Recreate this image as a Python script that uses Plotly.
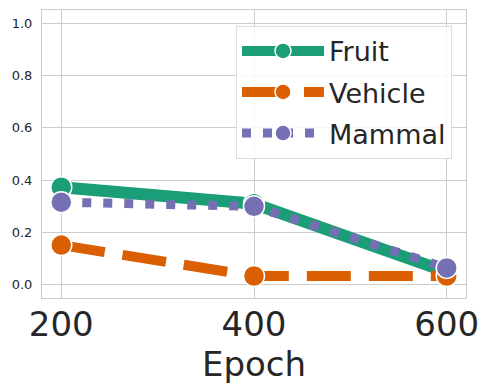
import plotly.graph_objects as go

epochs = [200, 400, 600]
fruit = [0.373, 0.31, 0.05]
vehicle = [0.152, 0.034, 0.034]
mammal = [0.316, 0.30, 0.065]

series = [
    ("Fruit", fruit, "#1b9e77", 12, "solid"),
    ("Vehicle", vehicle, "#d95f02", 10, "44px,18px"),
    ("Mammal", mammal, "#7570b3", 9, "9px,12px"),
]

fig = go.Figure()
for name, vals, color, lw, dash in series:
    fig.add_trace(go.Scatter(
        x=epochs, y=vals, name=name, mode="lines+markers", legendgroup=name,
        line=dict(color=color, width=lw, dash=dash),
        marker=dict(size=21, color=color, line=dict(color="white", width=1.5)),
    ))

font = "DejaVu Sans"
# page body has an 8px margin, so the figure is 8px smaller and margins shifted
fig.update_layout(
    width=480, height=382,
    margin=dict(l=34, r=22, t=2, b=92),
    paper_bgcolor="white", plot_bgcolor="white",
    font=dict(family=font, color="#262626"),
    showlegend=True,
    legend=dict(
        x=0.967, y=0.945, xanchor="right", yanchor="top",
        bgcolor="rgba(255,255,255,0.85)", bordercolor="#dddddd", borderwidth=1,
        font=dict(size=27, family=font, color="#262626"),
        itemwidth=82, tracegroupgap=3,
    ),
    xaxis=dict(
        range=[180, 620], tickvals=[200, 400, 600], ticktext=["200", "400", "600"],
        showgrid=True, gridcolor="#cccccc", gridwidth=1,
        showline=True, linecolor="#cccccc", mirror=True,
        tickfont=dict(size=34), zeroline=False, automargin=False,
        ticklabelstandoff=-4,
        title=dict(text="Epoch", font=dict(size=34), standoff=2),
        ticks="",
    ),
    yaxis=dict(
        range=[-0.05, 1.05], tickvals=[0, 0.2, 0.4, 0.6, 0.8, 1.0],
        ticktext=["0.0", "0.2", "0.4", "0.6", "0.8", "1.0"],
        showgrid=True, gridcolor="#cccccc", gridwidth=1,
        showline=True, linecolor="#cccccc", mirror=True, automargin=False,
        tickfont=dict(size=13), zeroline=False, ticks="",
        ticklabelstandoff=6,
    ),
)
fig.write_html("out.html")
